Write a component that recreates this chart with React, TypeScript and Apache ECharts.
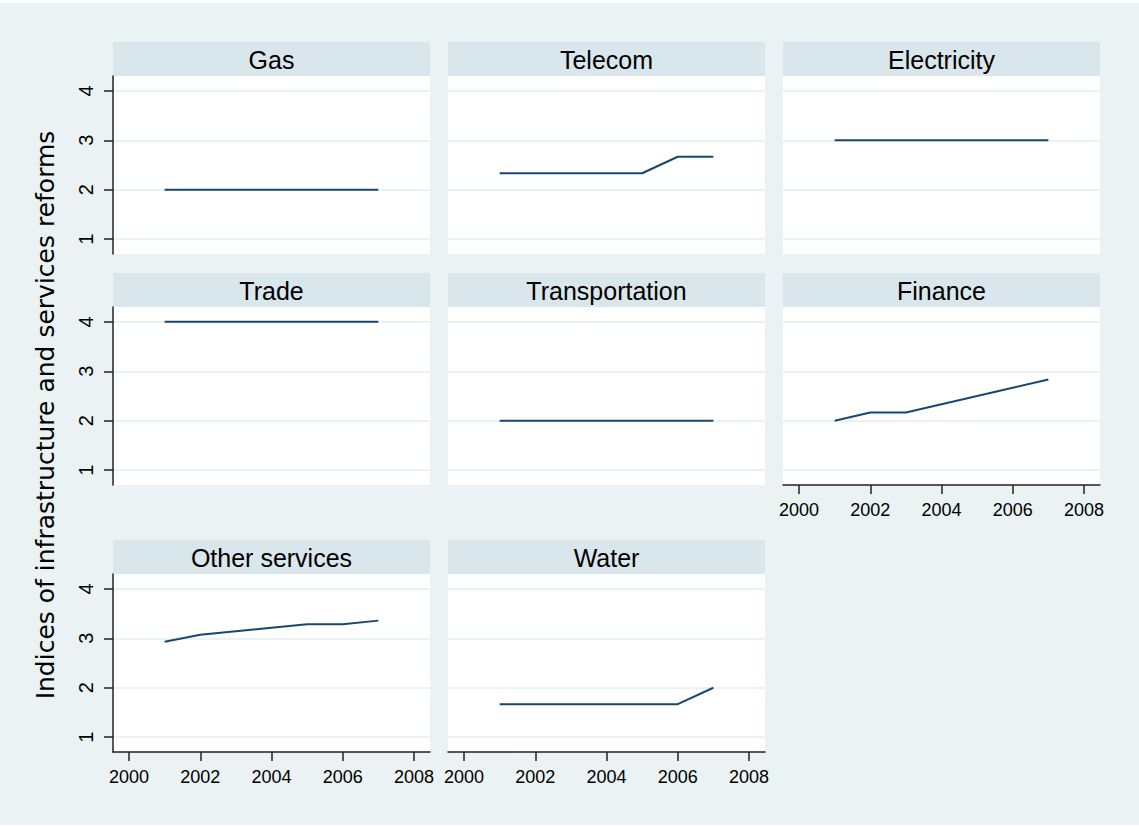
import React, { useEffect, useRef } from "react";
import * as echarts from "echarts";

const panelTitles = ["Gas", "Telecom", "Electricity", "Trade", "Transportation", "Finance", "Other services", "Water"];
const years = [2001, 2002, 2003, 2004, 2005, 2006, 2007];
const gas = [2, 2, 2, 2, 2, 2, 2];
const telecom = [2.333, 2.333, 2.333, 2.333, 2.333, 2.667, 2.667];
const electricity = [3, 3, 3, 3, 3, 3, 3];
const trade = [4, 4, 4, 4, 4, 4, 4];
const transportation = [2, 2, 2, 2, 2, 2, 2];
const finance = [2, 2.167, 2.167, 2.333, 2.5, 2.667, 2.833];
const otherServices = [2.929, 3.071, 3.143, 3.214, 3.286, 3.286, 3.357];
const water = [1.667, 1.667, 1.667, 1.667, 1.667, 1.667, 2];
const panelValues = [gas, telecom, electricity, trade, transportation, finance, otherServices, water];
const yTicks = [1, 2, 3, 4];
const xTicks = [2000, 2002, 2004, 2006, 2008];
const yTitle = "Indices of infrastructure and services reforms";

const BG = "#eaf2f3";
const HEADER = "#d9e6eb";
const LINE = "#1a476f";
const AXIS = "#222222";
const FONT = "'Liberation Sans', Arial, Helvetica, sans-serif";

export default function App() {
  const ref = useRef<HTMLDivElement>(null);

  useEffect(() => {
    if (!ref.current) return;
    const chart = echarts.init(ref.current, null, { renderer: "svg" });

    const colLeft = [113, 448, 783];
    const panelW = 317;
    const plotTop = [76, 307, 574];
    const plotH = 178;
    const headerH = 34;

    const grids: any[] = [];
    const xAxes: any[] = [];
    const yAxes: any[] = [];
    const series: any[] = [];
    const graphics: any[] = [
      { type: "rect", shape: { x: 0, y: 3, width: 1139, height: 822 }, style: { fill: BG }, silent: true, z: -10 },
    ];

    panelTitles.forEach((title, i) => {
      const r = Math.floor(i / 3);
      const c = i % 3;
      const showY = c === 0;
      const showX = i >= 5;
      grids.push({
        left: colLeft[c],
        top: plotTop[r],
        width: panelW,
        height: plotH,
        show: true,
        backgroundColor: "#ffffff",
        borderWidth: 0,
        containLabel: false,
      });
      xAxes.push({
        type: "value",
        gridIndex: i,
        min: 1999.55,
        max: 2008.45,
        axisLine: { show: showX, onZero: false, lineStyle: { color: AXIS, width: 1.5 } },
        axisTick: { show: showX, customValues: xTicks, length: 9, lineStyle: { color: AXIS, width: 1.5 } },
        axisLabel: {
          show: showX,
          customValues: xTicks,
          formatter: (v: number) => String(v),
          margin: 16,
          fontSize: 18,
          fontFamily: FONT,
          color: "#000",
        },
        splitLine: { show: false },
      });
      yAxes.push({
        type: "value",
        gridIndex: i,
        min: 0.7,
        max: 4.3,
        axisLine: { show: showY, lineStyle: { color: AXIS, width: 1.5 } },
        axisTick: { show: showY, customValues: yTicks, length: 9, lineStyle: { color: AXIS, width: 1.5 } },
        axisLabel: {
          show: showY,
          customValues: yTicks,
          formatter: (v: number) => String(v),
          rotate: 90,
          margin: 17,
          fontSize: 20,
          fontFamily: FONT,
          color: "#000",
        },
        splitLine: { show: true, lineStyle: { color: BG, width: 2 } },
      });
      series.push({
        type: "line",
        name: title,
        xAxisIndex: i,
        yAxisIndex: i,
        data: years.map((y, k) => [y, panelValues[i][k]]),
        showSymbol: false,
        symbol: "none",
        lineStyle: { color: LINE, width: 2 },
        itemStyle: { color: LINE },
        z: 5,
      });
      graphics.push({
        type: "rect",
        shape: { x: colLeft[c], y: plotTop[r] - headerH, width: panelW, height: headerH },
        style: { fill: HEADER },
        silent: true,
      });
      graphics.push({
        type: "text",
        x: colLeft[c] + panelW / 2,
        y: plotTop[r] - headerH / 2 + 1,
        style: {
          text: title,
          align: "center",
          verticalAlign: "middle",
          fontSize: 25,
          fontFamily: FONT,
          fill: "#000",
        },
        silent: true,
      });
    });

    graphics.push({
      type: "text",
      x: 45,
      y: 415,
      rotation: Math.PI / 2,
      style: {
        text: yTitle,
        align: "center",
        verticalAlign: "middle",
        fontSize: 25,
        fontFamily: "'DejaVu Sans', sans-serif",
        fill: "#000",
      },
      silent: true,
    });

    chart.setOption({
      animation: false,
      backgroundColor: "#ffffff",
      grid: grids,
      xAxis: xAxes,
      yAxis: yAxes,
      series,
      graphic: { elements: graphics },
    });

    return () => chart.dispose();
  }, []);

  return (
    <div
      ref={ref}
      style={{ position: "fixed", left: 0, top: 0, width: 1139, height: 827 }}
    />
  );
}
